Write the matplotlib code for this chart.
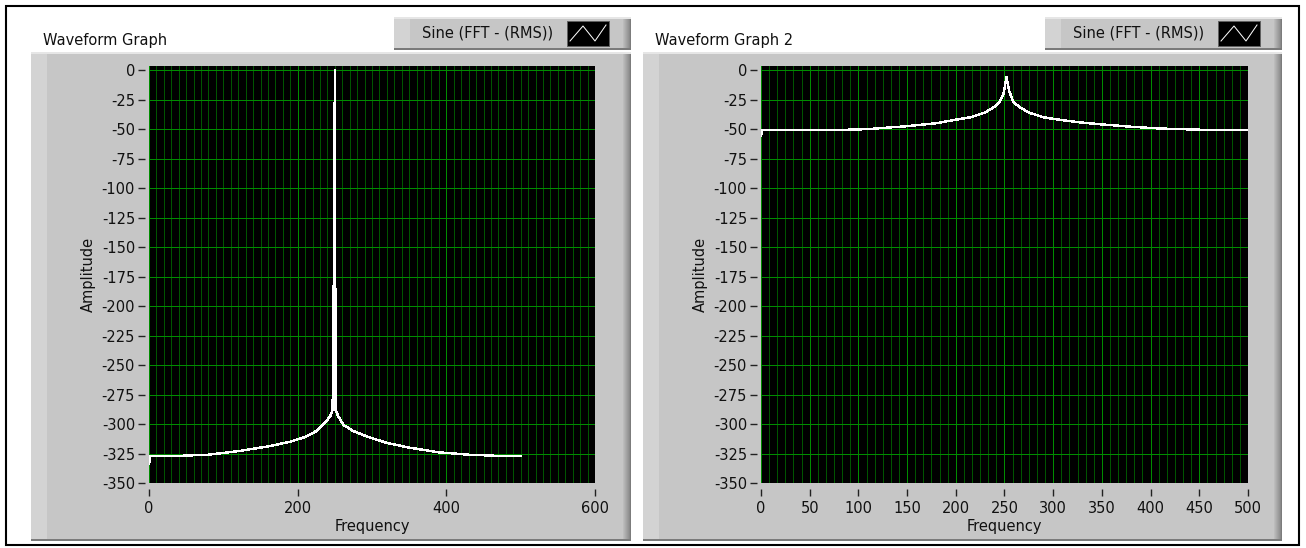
import matplotlib
matplotlib.use("Agg")
import matplotlib.pyplot as plt
from matplotlib.patches import Rectangle
import numpy as np

# spectrum of the sine, rectangular window (0 - 500 Hz)
freq_a = [0, 2, 40, 80, 120, 160, 190, 210, 225, 237, 244, 247, 249, 250, 251, 255, 262, 275, 295, 320, 350, 390, 430, 470, 500]
amp_a = [-334, -327, -327, -326, -323, -319, -315, -311, -306, -299, -293, -288, -145, 0, -288, -294, -301, -306, -311, -316, -320, -324, -326, -327, -327]

# spectrum of the sine, second graph
freq_b = [0, 1, 5, 70, 110, 150, 180, 200, 215, 230, 240, 245, 249, 252, 255, 259, 265, 275, 290, 310, 330, 350, 380, 410, 450, 500]
amp_b = [-56, -51, -51, -51, -50, -47.5, -45, -42, -40, -36, -31, -27, -20, -6, -18, -27, -31, -36, -40, -42.5, -44.5, -46, -48, -49.5, -50.5, -51]

yticks = list(range(-350, 1, 25))
xticks_a = [0, 200, 400, 600]
xticks_b = list(range(0, 501, 50))

plt.rcParams['axes.unicode_minus'] = False
plt.rcParams['font.family'] = 'DejaVu Sans'

W, H = 1306, 548
PANEL = '#c6c6c6'
PX = 0.72  # one pixel in points
fig = plt.figure(figsize=(W / 100, H / 100), dpi=100)
fig.patch.set_facecolor('white')

bg = fig.add_axes([0, 0, 1, 1], zorder=0)
bg.set_xlim(0, W)
bg.set_ylim(H, 0)
bg.axis('off')


def px_rect(x0, y0, x1, y1):
    return [x0 / W, 1 - y1 / H, (x1 - x0) / W, (y1 - y0) / H]


def bevel_box(x0, y0, x1, y1):
    bg.add_patch(Rectangle((x0, y0), x1 - x0, y1 - y0, fc=PANEL, ec='none'))
    bg.add_patch(Rectangle((x0, y0), 16, y1 - y0, fc='#d3d3d3', ec='none'))
    shades = ['#bcbcbc', '#b4b4b4', '#acacac', '#a4a4a4', '#9c9c9c', '#949494', '#8a8a8a', '#7c7c7c']
    for i, c in enumerate(shades):
        bg.add_patch(Rectangle((x1 - len(shades) + i, y0), 1, y1 - y0, fc=c, ec='none'))
    bg.add_patch(Rectangle((x0, y0), x1 - x0, 2, fc='#e6e6e6', ec='none'))
    bg.add_patch(Rectangle((x0, y1 - 2), x1 - x0, 2, fc='#7a7a7a', ec='none'))


def legend(x0, y0, x1, y1, label):
    bevel_box(x0, y0, x1, y1)
    sx0, sx1 = x1 - 64, x1 - 22
    bg.add_patch(Rectangle((sx0, y0 + 4), sx1 - sx0, y1 - y0 - 8, fc='black', ec='#606060', lw=PX))
    bg.plot([sx0 + 3, sx0 + 16, sx0 + 28, sx1 - 3], [y1 - 9, y0 + 9, y1 - 9, y0 + 8],
            color='white', lw=PX)
    bg.text(sx0 - 14, (y0 + y1) / 2, label, ha='right', va='center', fontsize=10.5, color='#111111')


def graph(px0, px1, title, plot_rect, freq, amp, xmax, xticks, minor_step):
    x0, y0, x1, y1 = plot_rect
    bg.text(px0 + 12, 40, title, ha='left', va='center', fontsize=10.5, color='#111111')
    bevel_box(px0, 52, px1, 541)

    ax = fig.add_axes(px_rect(x0, y0, x1, y1), zorder=2)
    ax.set_facecolor('black')
    ax.plot(freq, amp, color='white', lw=1.0, antialiased=False, zorder=3)
    ax.set_xlim(0, xmax)
    ax.set_ylim(-350, 3.5)
    ax.set_yticks(yticks)
    ax.set_xticks(xticks)
    ax.set_xticks(np.arange(0, xmax + 0.01, minor_step), minor=True)
    ax.grid(which='major', color='#008c00', lw=PX)
    ax.grid(which='minor', axis='x', color='#005400', lw=PX)
    ax.set_axisbelow(True)
    for s in ax.spines.values():
        s.set_visible(False)
    ax.spines['left'].set_position(('outward', 3))
    ax.spines['bottom'].set_position(('outward', 4))
    ax.tick_params(which='major', direction='out', length=5, width=1, color='#222222',
                   labelsize=10.5, labelcolor='#111111')
    ax.tick_params(axis='y', pad=2)
    ax.tick_params(axis='x', pad=4)
    ax.tick_params(which='minor', length=0)

    bg.text(x0 - 61, (y0 + y1) / 2, 'Amplitude', rotation=90, ha='center', va='center',
            fontsize=10.5, color='#111111')
    bg.text((x0 + x1) / 2, 527, 'Frequency', ha='center', va='center', fontsize=10.5, color='#111111')
    return ax


# outer frame
bg.add_patch(Rectangle((6, 6), 1293, 539, fill=False, ec='black', lw=1.5))

graph(31, 631, 'Waveform Graph', (149, 66, 595, 483), freq_a, amp_a, 600, xticks_a, 10)
legend(394, 17, 631, 50, 'Sine (FFT - (RMS))')

graph(643, 1282, 'Waveform Graph 2', (761, 66, 1248, 483), freq_b, amp_b, 500, xticks_b, 50 / 6)
legend(1045, 17, 1282, 50, 'Sine (FFT - (RMS))')

fig.savefig('out.png', dpi=100)
